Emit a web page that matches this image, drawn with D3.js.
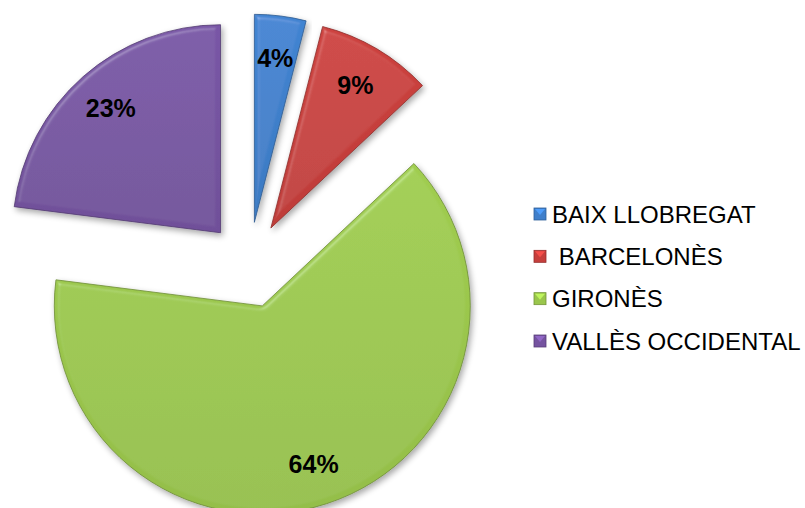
<!DOCTYPE html>
<html>
<head>
<meta charset="utf-8">
<script src="https://cdn.jsdelivr.net/npm/d3@7"></script>
<style>
  html, body { margin: 0; padding: 0; background: #fff; }
  svg { display: block; }
  text { font-family: "Liberation Sans", Arial, sans-serif; }
</style>
</head>
<body>
<svg id="chart" width="805" height="508"></svg>
<script>
const categories = ["BAIX LLOBREGAT", " BARCELONÈS", "GIRONÈS", "VALLÈS OCCIDENTAL"];
const values = [4, 9, 64, 23];
const labels = ["4%", "9%", "64%", "23%"];
const colors = ["#3F7FCB", "#C63F3C", "#9AC64C", "#7553A0"];

const svg = d3.select("#chart");
const defs = svg.append("defs");

// bevel + shadow filter
const f = defs.append("filter").attr("id", "bevel")
  .attr("x", "-10%").attr("y", "-10%").attr("width", "120%").attr("height", "120%");
f.append("feGaussianBlur").attr("in", "SourceAlpha").attr("stdDeviation", 2.5).attr("result", "blur");
const spec = f.append("feSpecularLighting").attr("in", "blur").attr("surfaceScale", 4)
  .attr("specularConstant", 0.5).attr("specularExponent", 25)
  .attr("lighting-color", "#ffffff").attr("result", "spec");
spec.append("feDistantLight").attr("azimuth", 235).attr("elevation", 45);
f.append("feComposite").attr("in", "spec").attr("in2", "SourceAlpha").attr("operator", "in").attr("result", "specOut");
f.append("feComposite").attr("in", "SourceGraphic").attr("in2", "specOut")
  .attr("operator", "arithmetic").attr("k1", 0).attr("k2", 1).attr("k3", 0.3).attr("k4", 0).attr("result", "lit");
f.append("feOffset").attr("in", "SourceAlpha").attr("dx", 2).attr("dy", 3).attr("result", "off");
f.append("feGaussianBlur").attr("in", "off").attr("stdDeviation", 3).attr("result", "sh");
f.append("feComponentTransfer").attr("in", "sh").attr("result", "sh2")
  .append("feFuncA").attr("type", "linear").attr("slope", 0.35);
const m = f.append("feMerge");
m.append("feMergeNode").attr("in", "sh2");
m.append("feMergeNode").attr("in", "lit");

// vertical gradients per colour
colors.forEach((c, i) => {
  const g = defs.append("linearGradient").attr("id", "grad" + i)
    .attr("x1", 0).attr("y1", 0).attr("x2", 0).attr("y2", 1);
  g.append("stop").attr("offset", "0%").attr("stop-color", d3.color(c).brighter(0.1));
  g.append("stop").attr("offset", "100%").attr("stop-color", d3.color(c).darker(0.12));
});

const cx = 249, cy = 265, R = 208, explode = 43, labelR = 166;

const pie = d3.pie().sort(null).value(d => d)(values);
const arc = d3.arc().innerRadius(0).outerRadius(R);
const labelArc = d3.arc().innerRadius(labelR).outerRadius(labelR);

const g = svg.append("g").attr("transform", `translate(${cx},${cy})`);

const slices = g.selectAll("g.slice").data(pie).enter().append("g")
  .attr("class", "slice")
  .attr("transform", d => {
    const a = (d.startAngle + d.endAngle) / 2;
    return `translate(${explode * Math.sin(a)},${-explode * Math.cos(a)})`;
  });

slices.append("path")
  .attr("d", arc)
  .attr("fill", (d, i) => `url(#grad${i})`)
  .attr("stroke", (d, i) => d3.color(colors[i]).darker(1))
  .attr("stroke-width", 0.8)
  .attr("stroke-linejoin", "round")
  .attr("filter", "url(#bevel)");

slices.append("text")
  .attr("transform", d => `translate(${labelArc.centroid(d)})`)
  .attr("text-anchor", "middle")
  .attr("dominant-baseline", "central")
  .attr("font-size", 25)
  .attr("font-weight", "bold")
  .attr("fill", "#000")
  .text((d, i) => labels[i]);

// legend
const legendY = d3.scalePoint().domain(categories).range([214, 341]);
const lg = svg.append("g");
const items = lg.selectAll("g").data(categories).enter().append("g")
  .attr("transform", d => `translate(540,${legendY(d)})`);
items.append("rect")
  .attr("x", -6).attr("y", -6).attr("width", 12).attr("height", 12)
  .attr("fill", (d, i) => colors[i])
  .attr("stroke", (d, i) => d3.color(colors[i]).darker(0.8))
  .attr("stroke-width", 0.8);
items.append("path")
  .attr("d", "M-5,-5 L5,-5 L0,1 Z")
  .attr("fill", (d, i) => d3.color(colors[i]).brighter(0.6));
items.append("text")
  .attr("x", 12).attr("y", 0)
  .attr("dominant-baseline", "central")
  .attr("font-size", 24)
  .attr("fill", "#000")
  .attr("xml:space", "preserve")
  .style("white-space", "pre")
  .text(d => d);
</script>
</body>
</html>
